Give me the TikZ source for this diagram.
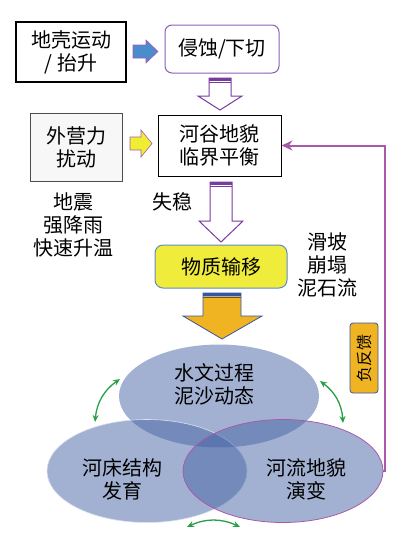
\documentclass[tikz,border=0pt]{standalone}
\usepackage{fontspec}
\setmainfont{Noto Sans CJK SC}
\usetikzlibrary{arrows.meta,shapes.geometric}
\definecolor{boxpurple}{RGB}{140,95,180}
\definecolor{arrowpurple}{RGB}{120,60,160}
\definecolor{fbpurple}{RGB}{168,90,170}
\definecolor{arrowblue}{RGB}{75,140,205}
\definecolor{arrowyellow}{RGB}{240,238,50}
\definecolor{movefill}{RGB}{240,236,60}
\definecolor{moveborder}{RGB}{95,140,200}
\definecolor{orangefill}{RGB}{240,180,35}
\definecolor{navy}{RGB}{55,85,160}
\definecolor{ellblue}{RGB}{70,100,165}
\definecolor{linkgreen}{RGB}{40,160,70}

\begin{document}
\begin{tikzpicture}[x=1pt, y=-1pt,
    every node/.style={font=\fontsize{20}{23}\selectfont, align=center, inner sep=0pt},
    hollow/.style={draw=arrowpurple, fill=white, line width=1pt},
    blob/.style={ellipse, minimum width=200pt, minimum height=103pt, fill=ellblue, fill opacity=0.5},
    link/.style={linkgreen, line width=1.3pt, {Stealth[length=7pt,width=6pt]}-{Stealth[length=7pt,width=6pt]}},
    fb/.style={fbpurple, line width=2pt, -{Stealth[length=11pt,width=10pt]}}]
    \useasboundingbox (0,0) rectangle (420,546);

    % Top row
    \node[draw=black, line width=1.6pt, minimum width=110pt, minimum height=60pt] (crust) at (71,52) {地壳运动\\/ 抬升};
    \node[draw=boxpurple, line width=1pt, rounded corners=7pt, minimum width=114pt, minimum height=48pt] (erode) at (222,49) {侵蚀/下切};
    \draw[fill=arrowblue, draw=fbpurple, line width=0.6pt] (133,45) -- (146,45) -- (146,40) -- (158,51.5) -- (146,63) -- (146,58) -- (133,58) -- cycle;

    % Erosion -> equilibrium
    \draw[hollow] (209,78) -- (231,78) -- (231,96) -- (242,96) -- (220,110) -- (198,96) -- (209,96) -- cycle;
    \fill[arrowpurple] (209,78) rectangle (231,80.5);
    \draw[arrowpurple, line width=0.8pt] (209,82.5) -- (231,82.5);

    % Second row
    \node[draw=black!70, fill=black!3, line width=0.8pt, minimum width=92pt, minimum height=68pt] (ext) at (76,147) {外营力\\扰动};
    \node[draw=black, line width=1pt, minimum width=123pt, minimum height=61pt] (val) at (219.5,145.5) {河谷地貌\\临界平衡};
    \draw[fill=arrowyellow, draw=fbpurple, line width=0.6pt] (130,137) -- (141,137) -- (141,130) -- (152,143.5) -- (141,157) -- (141,150) -- (130,150) -- cycle;

    % Triggers and instability
    \node (trig) at (73,225) {地震\\强降雨\\快速升温};
    \node (lose) at (172,202) {失稳};
    \draw[hollow] (210,182) -- (232,182) -- (232,221) -- (243,221) -- (221,242) -- (199,221) -- (210,221) -- cycle;
    \fill[arrowpurple] (210,182) rectangle (232,184.5);
    \draw[arrowpurple, line width=0.8pt] (210,186.5) -- (232,186.5);

    % Material transport
    \node[draw=moveborder, fill=movefill, line width=1pt, rounded corners=8pt, minimum width=132pt, minimum height=43pt] (move) at (221,266.5) {物质输移};
    \node (slide) at (327,265) {滑坡\\崩塌\\泥石流};
    \draw[fill=orangefill, draw=navy, line width=0.8pt] (203,293) -- (241,293) -- (241,316) -- (262,316) -- (222,339) -- (183,316) -- (203,316) -- cycle;
    \fill[navy] (203,293) rectangle (241,295.5);
    \draw[navy, line width=0.8pt] (203,297.5) -- (241,297.5);

    % Three interacting processes
    \node[blob] (hydro) at (219,396) {};
    \node[blob, draw=white!80!ellblue, draw opacity=1, line width=0.6pt] (bed) at (147,471) {};
    \node[blob, draw=fbpurple, draw opacity=1, line width=0.8pt] (riv) at (283,471) {};
    \node (hydrot) at (214,384) {水文过程\\泥沙动态};
    \node (bedt) at (122,479) {河床结构\\发育};
    \node (rivt) at (306,479) {河流地貌\\演变};

    % Interactions
    \coordinate (g1a) at (120,379);
    \coordinate (g1b) at (95,422);
    \coordinate (g2a) at (320,381);
    \coordinate (g2b) at (343,423);
    \coordinate (g3a) at (187,527);
    \coordinate (g3b) at (240,527);
    \draw[link] (g1a) to[bend right=25] (g1b);
    \draw[link] (g2a) to[bend left=25] (g2b);
    \draw[link] (g3a) to[bend left=25] (g3b);

    % Negative feedback
    \draw[fb] (riv.east) -- (385,471) |- (val.east);
    \node[draw=navy, fill=orangefill, line width=0.8pt, rounded corners=3pt, rotate=90, minimum width=70pt, minimum height=28pt, font=\fontsize{16}{19}\selectfont] (neg) at (364,358) {负反馈};
\end{tikzpicture}
\end{document}
